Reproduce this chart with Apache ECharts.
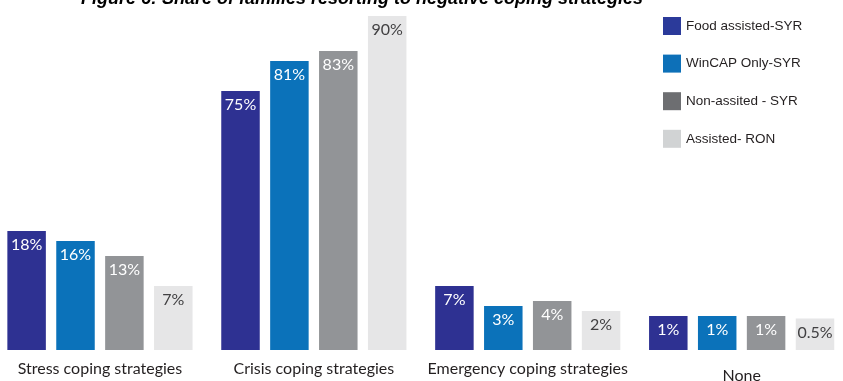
<!DOCTYPE html>
<html>
<head>
<meta charset="utf-8">
<script src="https://cdn.jsdelivr.net/npm/echarts@6/dist/echarts.min.js"></script>
<style>
  html, body { margin: 0; padding: 0; background: #ffffff; }
  #chart { width: 843px; height: 381px; }
</style>
</head>
<body>
<div id="chart"></div>
<script>
// Categories of coping strategy
const categories = ['Stress coping strategies', 'Crisis coping strategies', 'Emergency coping strategies', 'None'];

// Share of families (%) per group
const seriesNames = ['Food assisted-SYR', 'WinCAP Only-SYR', 'Non-assited - SYR', 'Assisted- RON'];
const foodAssistedSYR = [18, 75, 7, 1];
const winCapOnlySYR = [16, 81, 3, 1];
const nonAssistedSYR = [13, 83, 4, 1];
const assistedRON = [7, 90, 2, 0.5];

const barColors = ['#2E3192', '#0B72BA', '#929497', '#E6E6E7'];
const legendColors = ['#2B3A9A', '#0D70B8', '#6D6E71', '#D1D3D4'];
const labelColors = ['#ffffff', '#ffffff', '#ffffff', '#414042'];

const values = [foodAssistedSYR, winCapOnlySYR, nonAssistedSYR, assistedRON];

const chart = echarts.init(document.getElementById('chart'));

const series = seriesNames.map((name, i) => ({
  name: name,
  type: 'bar',
  data: values[i],
  barWidth: 38.5,
  barGap: '27%',
  itemStyle: { color: barColors[i] },
  label: {
    show: true,
    position: 'insideTop',
    distance: 6,
    formatter: '{c}%',
    color: labelColors[i],
    fontFamily: 'Lato',
    fontSize: 16
  }
}));

chart.setOption({
  animation: false,
  title: {
    text: 'Figure 6: Share of families resorting to negative coping strategies',
    left: 362,
    textAlign: 'center',
    top: -10,
    padding: 0,
    textStyle: {
      fontFamily: 'Liberation Sans',
      fontStyle: 'italic',
      fontWeight: 'bold',
      fontSize: 18,
      color: '#000000'
    }
  },
  legend: {
    orient: 'vertical',
    left: 663,
    top: 17,
    padding: 0,
    itemWidth: 18,
    itemHeight: 18,
    itemGap: 19.6,
    icon: 'rect',
    textStyle: { fontFamily: 'Liberation Sans', fontSize: 13.5, color: '#231F20' },
    data: seriesNames.map((n, i) => ({ name: n, itemStyle: { color: legendColors[i] } }))
  },
  grid: { left: -7, width: 855.6, top: 16, bottom: 31, containLabel: false, outerBoundsMode: 'none' },
  xAxis: {
    type: 'category',
    data: categories,
    axisLine: { show: false },
    axisTick: { show: false },
    axisLabel: {
      interval: 0,
      margin: 11,
      fontFamily: 'Lato',
      fontSize: 16,
      color: '#231F20',
      formatter: (v) => (v === 'None' ? '{low|' + v + '}' : v),
      rich: {
        low: { fontFamily: 'Lato', fontSize: 16, color: '#231F20', padding: [7, 0, 0, 0] }
      }
    }
  },
  yAxis: {
    type: 'value',
    min: 0,
    max: 90,
    show: false,
    splitLine: { show: false },
    // compressed ranges keep the small and large shares readable together
    breaks: [
      { start: 0, end: 0.2, gap: 6 },
      { start: 20, end: 70, gap: 21 }
    ]
  },
  series: series
});
</script>
</body>
</html>
